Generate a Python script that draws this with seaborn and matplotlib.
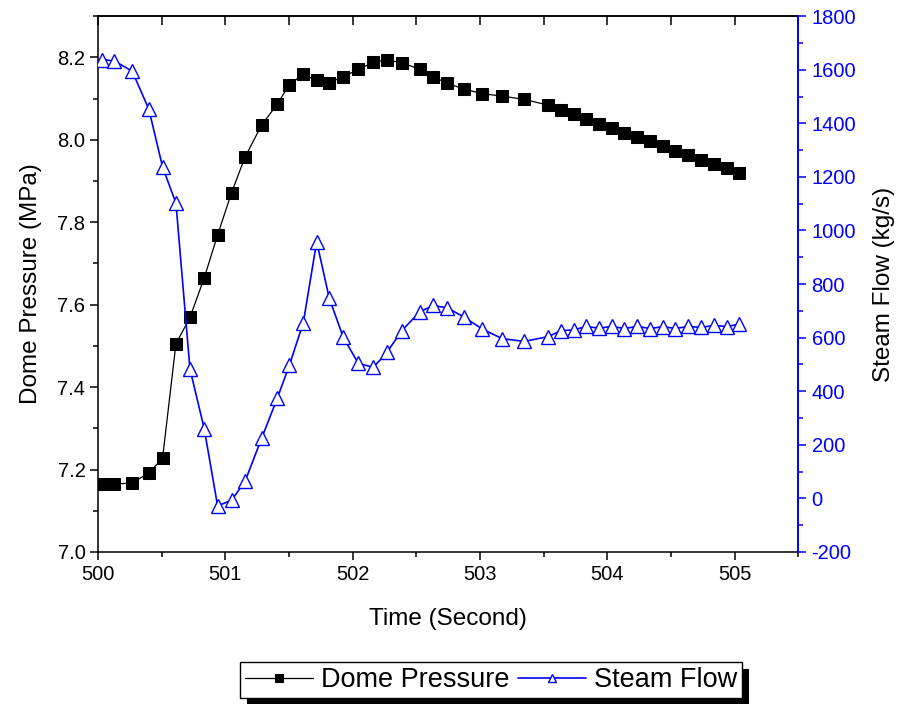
import numpy as np
import pandas as pd
import matplotlib
matplotlib.use("Agg")
import matplotlib.pyplot as plt
from matplotlib.patches import Rectangle
import seaborn as sns

# ---- data ----
time_s = [500.034, 500.128, 500.269, 500.400, 500.508, 500.613, 500.723, 500.835, 500.940,
          501.050, 501.155, 501.288, 501.408, 501.503, 501.613, 501.718, 501.817, 501.927,
          502.045, 502.163, 502.270, 502.386, 502.529, 502.634, 502.745, 502.877, 503.019,
          503.176, 503.349, 503.537, 503.637, 503.739, 503.836, 503.935, 504.035, 504.134,
          504.236, 504.336, 504.438, 504.535, 504.637, 504.737, 504.839, 504.939, 505.038]
dome_pressure = [7.164, 7.164, 7.168, 7.191, 7.228, 7.505, 7.569, 7.665, 7.769,
                 7.872, 7.958, 8.037, 8.086, 8.134, 8.159, 8.144, 8.139, 8.153,
                 8.171, 8.188, 8.194, 8.187, 8.171, 8.153, 8.137, 8.123, 8.112,
                 8.106, 8.098, 8.084, 8.073, 8.062, 8.050, 8.039, 8.028, 8.017,
                 8.006, 7.996, 7.985, 7.974, 7.962, 7.952, 7.941, 7.931, 7.920]
steam_flow = [1638, 1633, 1595, 1453, 1237, 1102, 483, 260, -28,
              -7, 63, 227, 373, 496, 656, 958, 747, 601,
              504, 489, 545, 626, 697, 720, 711, 676, 632,
              596, 586, 604, 626, 629, 642, 635, 642, 634,
              642, 634, 641, 634, 642, 638, 646, 641, 651]
x_ticks = [500, 501, 502, 503, 504, 505]
left_ticks = [7.0, 7.2, 7.4, 7.6, 7.8, 8.0, 8.2]
right_ticks = [-200, 0, 200, 400, 600, 800, 1000, 1200, 1400, 1600, 1800]

df = pd.DataFrame({"Time": time_s, "Pressure": dome_pressure, "Flow": steam_flow})

sns.set_style("ticks")
plt.rcParams["font.family"] = ["Liberation Sans", "DejaVu Sans"]
plt.rcParams["text.color"] = "black"
plt.rcParams["axes.labelcolor"] = "black"
plt.rcParams["xtick.color"] = "black"
plt.rcParams["ytick.color"] = "black"
plt.rcParams["axes.unicode_minus"] = False

BLUE = "#0000ff"
fig = plt.figure(figsize=(8.98, 7.04), dpi=100)
ax = fig.add_axes([0.109, 0.216, 0.780, 0.761])
ax2 = ax.twinx()

sns.lineplot(data=df, x="Time", y="Pressure", ax=ax, color="black", lw=0.9,
             marker="s", markersize=9, markerfacecolor="black", markeredgecolor="black",
             label="Dome Pressure", legend=False)
sns.lineplot(data=df, x="Time", y="Flow", ax=ax2, color=BLUE, lw=1.2,
             marker="^", markersize=10.5, markerfacecolor="white", markeredgecolor=BLUE,
             markeredgewidth=1.0, label="Steam Flow", legend=False)

ax.set_xlim(500, 505.5)
ax.set_ylim(7.0, 8.3)
ax2.set_ylim(-200, 1800)

ax.set_xticks(x_ticks)
ax.set_xticks(np.arange(500.5, 505.6, 1.0), minor=True)
ax.set_yticks(left_ticks)
ax.set_yticklabels([f"{v:.1f}" for v in left_ticks])
ax.set_yticks(np.arange(7.1, 8.31, 0.2), minor=True)
ax2.set_yticks(right_ticks)
ax2.set_yticklabels([str(v) for v in right_ticks])
ax2.set_yticks(np.arange(-100, 1801, 200), minor=True)

ax.tick_params(axis="both", which="major", direction="out", length=6, width=1.1,
               labelsize=14.5, colors="black")
ax.tick_params(axis="both", which="minor", direction="out", length=3.5, width=1.1)
ax.tick_params(axis="y", pad=3)
ax2.tick_params(axis="y", which="major", direction="out", length=6, width=1.1,
                labelsize=14.5, colors=BLUE, labelcolor=BLUE)
ax2.tick_params(axis="y", which="minor", direction="out", length=3.5, width=1.1, colors=BLUE)

secx = ax.secondary_xaxis("top")
secx.set_xticks(np.arange(500, 505.51, 0.5))
secx.tick_params(direction="in", length=6.5, width=1.1, labeltop=False, colors="black")
secx.spines["top"].set_linewidth(1.1)
secx.spines["top"].set_color("black")

for s in ["left", "bottom", "top"]:
    ax.spines[s].set_linewidth(1.1)
    ax.spines[s].set_color("black")
ax.spines["right"].set_visible(False)
ax2.spines["left"].set_visible(False)
ax2.spines["top"].set_visible(False)
ax2.spines["bottom"].set_visible(False)
ax2.spines["right"].set_visible(True)
ax2.spines["right"].set_color(BLUE)
ax2.spines["right"].set_linewidth(1.4)

ax.set_xlabel("Time (Second)", fontsize=17.5, labelpad=17, color="black")
ax.set_ylabel("Dome Pressure (MPa)", fontsize=17.5, labelpad=11, color="black")
ax2.set_ylabel("Steam Flow (kg/s)", fontsize=17.5, color="black", labelpad=12)

h1, l1 = ax.get_legend_handles_labels()
h2, l2 = ax2.get_legend_handles_labels()
leg = fig.legend(h1 + h2, l1 + l2, loc="center", bbox_to_anchor=(0.547, 0.034),
                 ncol=2, frameon=True, fancybox=False, edgecolor="black",
                 framealpha=1, fontsize=19.5, handlelength=2.5, handletextpad=0.3,
                 columnspacing=0.3, borderpad=0.2, markerscale=0.6)
leg.get_frame().set_linewidth(1.0)
leg.set_zorder(10)
for t in leg.get_texts():
    t.set_color("black")

fig.canvas.draw()
bb = leg.get_window_extent()
W, H = fig.bbox.width, fig.bbox.height
off = 7
shadow = Rectangle(((bb.x0 + off) / W, (bb.y0 - off) / H), bb.width / W, bb.height / H,
                   transform=fig.transFigure, facecolor="black", edgecolor="none", zorder=5)
fig.patches.append(shadow)

fig.savefig("out.png", dpi=100)
